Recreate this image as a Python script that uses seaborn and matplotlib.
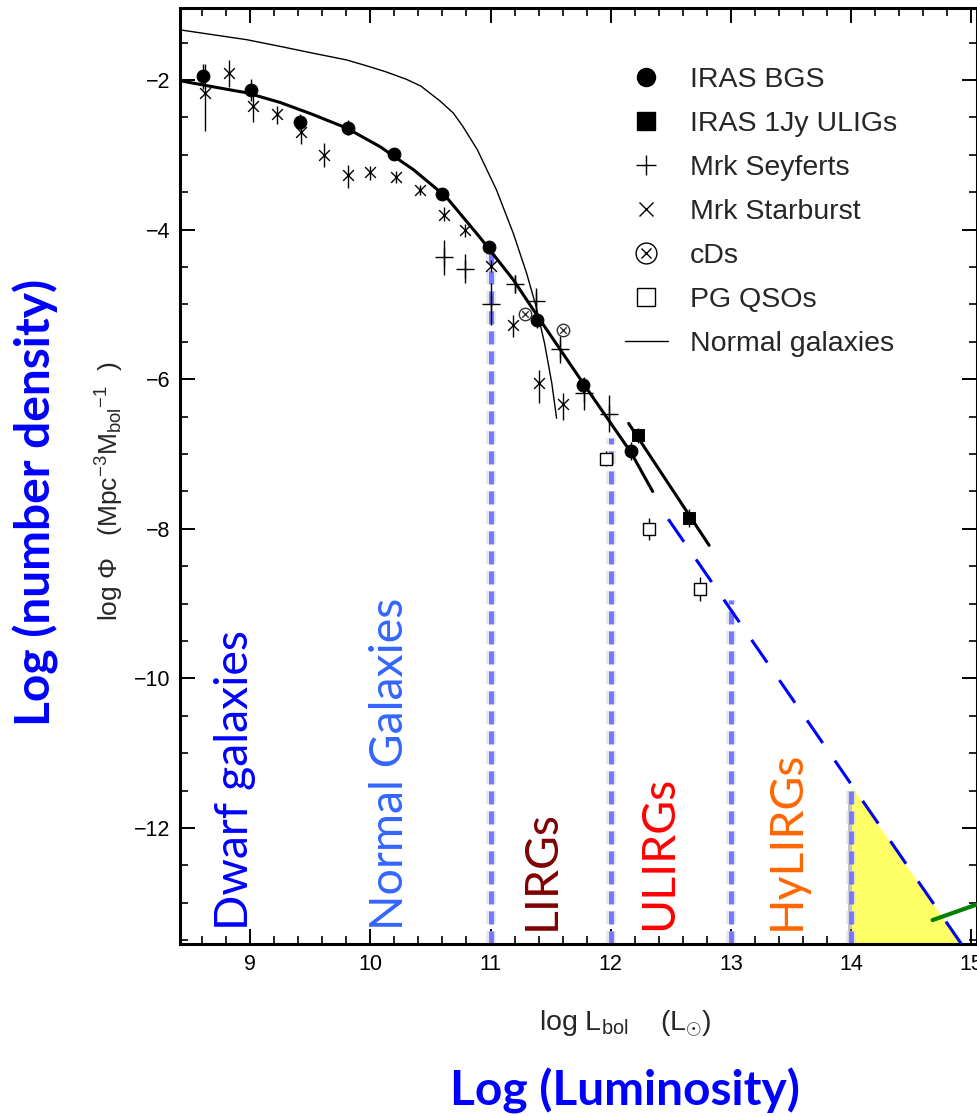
import numpy as np
import pandas as pd
import matplotlib
matplotlib.use('Agg')
import matplotlib.pyplot as plt
import matplotlib.patheffects as pe
from matplotlib.lines import Line2D
from matplotlib.legend_handler import HandlerTuple
from matplotlib.patches import Polygon
from matplotlib.ticker import MultipleLocator
import seaborn as sns

# ---- data ----
bgs_x = [8.61, 9.01, 9.41, 9.81, 10.20, 10.60, 10.99, 11.39, 11.77, 12.17]
bgs_y = [-1.95, -2.13, -2.56, -2.64, -2.99, -3.52, -4.23, -5.21, -6.08, -6.96]
bgs_err = [0.17, 0.15, 0.10, 0.10, 0.08, 0.08, 0.08, 0.10, 0.10, 0.12]

ulig_x = [12.23, 12.65]
ulig_y = [-6.75, -7.85]
ulig_err = [0.10, 0.12]

sey_x = [10.61, 10.79, 11.00, 11.20, 11.38, 11.58, 11.78, 11.99]
sey_y = [-4.37, -4.52, -4.99, -4.73, -4.95, -5.60, -6.19, -6.46]
sey_err = [0.23, 0.19, 0.28, 0.12, 0.17, 0.18, 0.22, 0.25]

sb_x = [8.62, 8.82, 9.02, 9.22, 9.42, 9.61, 9.81, 10.00, 10.21, 10.41,
        10.61, 10.79, 11.00, 11.19, 11.40, 11.60]
sb_y = [-2.17, -1.90, -2.35, -2.46, -2.69, -3.00, -3.27, -3.23, -3.30, -3.47,
        -3.81, -4.00, -4.48, -5.27, -6.05, -6.33]
sb_err_lo = [0.51, 0.19, 0.21, 0.13, 0.17, 0.16, 0.17, 0.10, 0.08, 0.07,
             0.08, 0.10, 0.08, 0.16, 0.27, 0.22]
sb_err_hi = [0.38, 0.17, 0.18, 0.11, 0.09, 0.16, 0.13, 0.08, 0.08, 0.07,
             0.11, 0.08, 0.08, 0.13, 0.18, 0.15]

cd_x = [11.29, 11.60]
cd_y = [-5.13, -5.34]

pg_x = [11.96, 12.32, 12.74]
pg_y = [-7.06, -8.00, -8.80]
pg_err = [0.10, 0.15, 0.16]

# fitted curves
fit_x = [8.42, 8.69, 8.97, 9.25, 9.52, 9.80, 10.08, 10.36, 10.63, 10.91,
         11.19, 11.41, 11.77, 12.17, 12.35]
fit_y = [-2.01, -2.09, -2.17, -2.30, -2.46, -2.64, -2.89, -3.20, -3.56, -4.10,
         -4.67, -5.20, -6.05, -6.98, -7.50]
ulfit_x = [12.15, 12.82]
ulfit_y = [-6.59, -8.22]
norm_x = [8.42, 8.97, 9.25, 9.52, 9.80, 9.97, 10.13, 10.30, 10.42, 10.58, 10.69,
          10.77, 10.89, 11.05, 11.19, 11.30, 11.38, 11.45, 11.51, 11.55]
norm_y = [-1.33, -1.46, -1.55, -1.64, -1.73, -1.81, -1.89, -1.99, -2.08, -2.28, -2.44,
          -2.62, -2.93, -3.47, -4.05, -4.58, -5.03, -5.52, -6.05, -6.52]

# extrapolation, HyLIRG wedge, green segment
extra_x = [12.48, 14.92]
extra_y = [-7.87, -13.55]
wedge_x = [14.01, 14.01, 14.92]
wedge_y = [-11.45, -13.55, -13.55]
green_x = [14.68, 15.05]
green_y = [-13.23, -13.02]

# class boundaries
bound_x = [11, 12, 13, 14]
bound_top = [-4.27, -6.79, -8.95, -11.45]

classes = ['Dwarf galaxies', 'Normal Galaxies', 'LIRGs', 'ULIRGs', 'HyLIRGs']
class_x = [8.87, 10.16, 11.43, 12.40, 13.47]
class_colors = ['#0000FF', '#3366FF', '#800000', '#FF0000', '#FF6600']

XMIN, XMAX = 8.418, 15.05
YMIN, YMAX = -13.55, -1.04

# ---- style ----
sns.set_theme(style='ticks')
plt.rcParams['font.family'] = ['Liberation Sans', 'DejaVu Sans']
plt.rcParams['mathtext.fontset'] = 'custom'
plt.rcParams['mathtext.rm'] = 'Liberation Sans'
plt.rcParams['mathtext.it'] = 'Liberation Sans:italic'
plt.rcParams['mathtext.bf'] = 'Liberation Sans:bold'

fig = plt.figure(figsize=(9.78, 11.16), dpi=100)
ax = fig.add_axes([0.1844, 0.1541, 0.8146, 0.8385])

# wedge
tri = Polygon(list(zip(wedge_x, wedge_y)), closed=True, facecolor='#FFFF66',
              edgecolor='none', zorder=1)
tri.set_path_effects([pe.SimplePatchShadow(offset=(-3, -2), shadow_rgbFace='#888888', alpha=0.5),
                      pe.Normal()])
ax.add_patch(tri)

# class boundaries
for bx, bt in zip(bound_x, bound_top):
    ln, = ax.plot([bx, bx], [YMIN, bt], color='#7777FF', lw=3.6, dashes=(2.6, 1.4), zorder=2)
    ln.set_path_effects([pe.Stroke(linewidth=7, foreground='#dcdce6', alpha=0.7), pe.Normal()])

# curves
sns.lineplot(x=norm_x, y=norm_y, sort=False, estimator=None, color='black', lw=1.0, ax=ax, zorder=3)
sns.lineplot(x=fit_x, y=fit_y, sort=False, estimator=None, color='black', lw=2.2, ax=ax, zorder=3)
sns.lineplot(x=ulfit_x, y=ulfit_y, sort=False, estimator=None, color='black', lw=2.2, ax=ax, zorder=3)
ax.plot(extra_x, extra_y, color='#0000FF', lw=2.2, dashes=(9.0, 7.0), zorder=3)
ax.plot(green_x, green_y, color='#008000', lw=3.0, zorder=3)

# error bars
ebkw = dict(fmt='none', ecolor='black', elinewidth=1.0, capsize=0, zorder=4)
ax.errorbar(bgs_x, bgs_y, yerr=bgs_err, **ebkw)
ax.errorbar(ulig_x, ulig_y, yerr=ulig_err, **ebkw)
ax.errorbar(sey_x, sey_y, yerr=sey_err, **ebkw)
ax.errorbar(sb_x, sb_y, yerr=[sb_err_lo, sb_err_hi], **ebkw)
ax.errorbar(pg_x, pg_y, yerr=pg_err, **ebkw)

# markers
sns.scatterplot(x=bgs_x, y=bgs_y, marker='o', s=85, color='black', edgecolor='black', ax=ax, zorder=5)
sns.scatterplot(x=ulig_x, y=ulig_y, marker='s', s=70, color='black', edgecolor='black', ax=ax, zorder=5)
sns.scatterplot(x=sey_x, y=sey_y, marker='+', s=150, color='black', linewidth=1.0, ax=ax, zorder=5)
sns.scatterplot(x=sb_x, y=sb_y, marker='x', s=60, color='black', linewidth=1.0, ax=ax, zorder=5)
sns.scatterplot(x=pg_x, y=pg_y, marker='s', s=70, facecolor='white', edgecolor='black', linewidth=1.0, ax=ax, zorder=5)
sns.scatterplot(x=cd_x, y=cd_y, marker='o', s=80, facecolor='white', edgecolor='#333333', linewidth=1.0, ax=ax, zorder=5)
sns.scatterplot(x=cd_x, y=cd_y, marker='x', s=22, color='#333333', linewidth=1.0, ax=ax, zorder=6)

# class names
for name, cx, cc in zip(classes, class_x, class_colors):
    ax.text(cx, -13.36, name, rotation=90, ha='center', va='bottom', color=cc,
            fontsize=33.5, family=['Lato', 'DejaVu Sans'], zorder=6)

# axes
ax.set_xlim(XMIN, XMAX)
ax.set_ylim(YMIN, YMAX)
ax.xaxis.set_major_locator(MultipleLocator(1))
ax.xaxis.set_minor_locator(MultipleLocator(0.2))
ax.yaxis.set_major_locator(MultipleLocator(2))
ax.yaxis.set_minor_locator(MultipleLocator(0.5))
ax.tick_params(which='both', direction='in', top=True, right=True, colors='black')
ax.tick_params(which='major', length=11, width=1.4, labelsize=15.5, pad=7)
ax.tick_params(which='minor', length=5.5, width=1.2)
for sp in ax.spines.values():
    sp.set_linewidth(2.2)
    sp.set_color('black')
ax.set_xlabel('')
ax.set_ylabel('')

# legend
hs = [
    Line2D([], [], ls='none', marker='o', ms=13, color='black'),
    Line2D([], [], ls='none', marker='s', ms=13, color='black'),
    Line2D([], [], ls='none', marker='+', ms=14, mew=1.0, color='black'),
    Line2D([], [], ls='none', marker='x', ms=10, mew=1.0, color='black'),
    (Line2D([], [], ls='none', marker='o', ms=15, mfc='white', mec='black', mew=1.0),
     Line2D([], [], ls='none', marker='x', ms=7, mew=1.0, color='black')),
    Line2D([], [], ls='none', marker='s', ms=13, mfc='white', mec='black', mew=1.0),
    Line2D([], [], color='black', lw=1.0),
]
labels = ['IRAS BGS', 'IRAS 1Jy ULIGs', 'Mrk Seyferts', 'Mrk Starburst', 'cDs', 'PG QSOs',
          'Normal galaxies']
fig.legend(hs, labels, loc='upper left', bbox_to_anchor=(625 / 978, 1 - 67 / 1116),
           frameon=False, fontsize=20.5, handlelength=1.5, handletextpad=0.78,
           labelspacing=0.63, borderpad=0, borderaxespad=0,
           handler_map={tuple: HandlerTuple(ndivide=1)})

# axis titles
fig.text(110 / 978, 1 - 491 / 1116, r'log $\Phi$   (Mpc$^{-3}$M$_{\rm bol}$$^{-1}$  )',
         rotation=90, ha='center', va='center', fontsize=19)
fig.text(625 / 978, 1 - 1024 / 1116, r'log L$_{\rm bol}$    (L$_{\odot}$)',
         ha='center', va='center', fontsize=20.5)
fig.text(36 / 978, 1 - 502 / 1116, 'Log (number density)', rotation=90,
         ha='center', va='center', color='#0000FF', fontsize=34.5, fontweight='bold',
         family=['Lato', 'DejaVu Sans'])
fig.text(625 / 978, 1 - 1105 / 1116, 'Log (Luminosity)', ha='center', va='baseline',
         color='#0000FF', fontsize=34.5, fontweight='bold', family=['Lato', 'DejaVu Sans'])

fig.savefig('out.png', dpi=100)
